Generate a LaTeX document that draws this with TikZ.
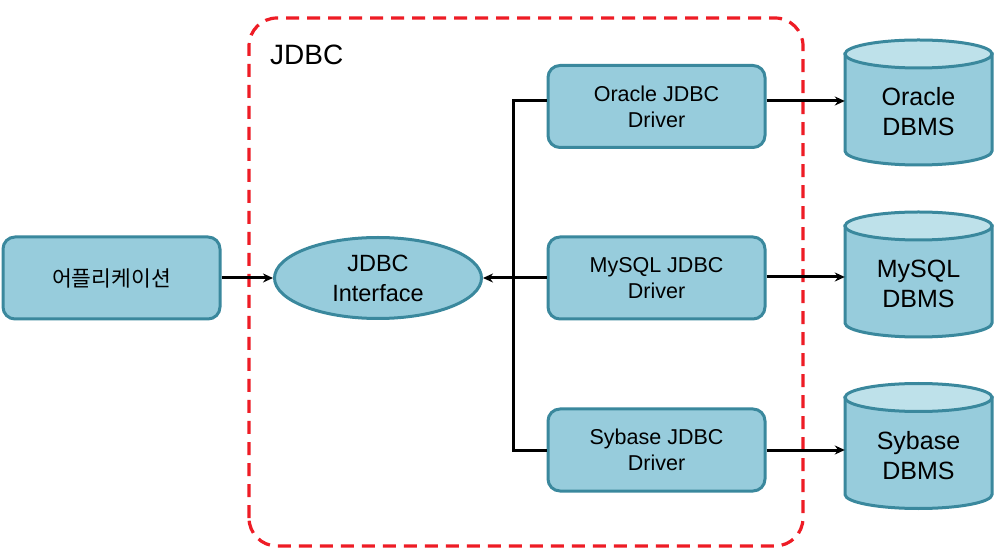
\documentclass[tikz,border=0pt]{standalone}
\usepackage{fontspec}
\setmainfont{Liberation Sans}
\newfontfamily\krfont{Noto Sans CJK KR}
\usetikzlibrary{shapes.geometric,arrows.meta}
\definecolor{boxfill}{HTML}{97CCDC}
\definecolor{boxline}{HTML}{3A889D}
\definecolor{cyltop}{HTML}{BEE1EA}
\definecolor{dashred}{HTML}{EE1C25}
\begin{document}
\begin{tikzpicture}[x=1pt,y=1pt,
  box/.style={draw=boxline, fill=boxfill, line width=3pt, rounded corners=12pt,
    minimum width=217pt, minimum height=82pt, align=center, inner sep=0pt,
    font=\fontsize{21.5}{26}\selectfont},
  ell/.style={ellipse, draw=boxline, fill=boxfill, line width=3pt,
    minimum width=207pt, minimum height=81pt, inner sep=0pt, align=center,
    font=\fontsize{23.5}{30}\selectfont},
  dbtext/.style={minimum width=147pt, inner sep=0pt, align=center,
    font=\fontsize{25}{30}\selectfont},
  arr/.style={line width=3pt, -{Stealth[length=10pt,width=9pt]}},
  wire/.style={line width=3pt},
  dbcyl/.pic={
    \path[draw=boxline, fill=boxfill, line width=3pt] (-73.5,48.5) -- (-73.5,-48.5)
      arc[start angle=180,end angle=360,x radius=73.5,y radius=14] -- (73.5,48.5) -- cycle;
    \path[draw=boxline, fill=cyltop, line width=3pt] (0,48.5) ellipse[x radius=73.5, y radius=14];
  }]
\fill[white] (0,0) rectangle (1000,554);
\useasboundingbox (0,0) rectangle (1000,554);

% JDBC boundary
\draw[dashred, line width=3.2pt, dash pattern=on 13pt off 8pt, rounded corners=28pt]
  (249,8) rectangle (803,536);
\node[anchor=base west, inner sep=0pt, font=\fontsize{28}{30}\selectfont] (title) at (270,489) {JDBC};

% nodes
\node[box, font=\krfont\fontsize{21.5}{24}\selectfont] (app) at (111.5,276) {어플리케이션};
\node[ell] (ji) at (378,276) {JDBC\\Interface};
\node[box] (od) at (656.5,447.5) {Oracle JDBC\\Driver};
\node[box] (md) at (656.5,276) {MySQL JDBC\\Driver};
\node[box] (sd) at (656.5,104) {Sybase JDBC\\Driver};

\pic at (918.5,451.5) {dbcyl};
\pic at (918.5,279.5) {dbcyl};
\pic at (918.5,108) {dbcyl};
\node[dbtext] (odb) at (918.5,442) {Oracle\\DBMS};
\node[dbtext] (mdb) at (918.5,270) {MySQL\\DBMS};
\node[dbtext] (sdb) at (918.5,98) {Sybase\\DBMS};

% connectors
\coordinate (bb) at (513,104);
\path ([yshift=5.5pt]od.west) coordinate (ow);
\draw[wire] (ow) -| (bb) -- (sd.west);
\draw[arr] (md.west) -- (ji.east);
\draw[arr] (app.east) -- (ji.west);
\path ([yshift=5.5pt]od.east) coordinate (oe);
\draw[arr] (oe) -- (oe -| odb.west);
\path ([yshift=1pt]md.east) coordinate (me);
\draw[arr] (me) -- (me -| mdb.west);
\draw[arr] (sd.east) -- (sd.east -| sdb.west);
\end{tikzpicture}
\end{document}
